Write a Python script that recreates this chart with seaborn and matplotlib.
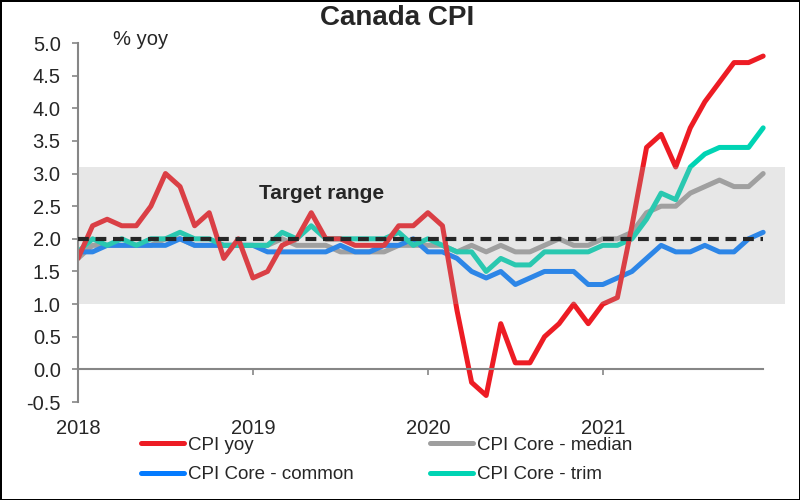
import matplotlib
matplotlib.use("Agg")
import matplotlib.pyplot as plt
import seaborn as sns
import pandas as pd
import numpy as np

# monthly data, Jan 2018 - Dec 2021
cpi_yoy = [1.7, 2.2, 2.3, 2.2, 2.2, 2.5, 3.0, 2.8, 2.2, 2.4, 1.7, 2.0,
           1.4, 1.5, 1.9, 2.0, 2.4, 2.0, 2.0, 1.9, 1.9, 1.9, 2.2, 2.2,
           2.4, 2.2, 0.9, -0.2, -0.4, 0.7, 0.1, 0.1, 0.5, 0.7, 1.0, 0.7,
           1.0, 1.1, 2.2, 3.4, 3.6, 3.1, 3.7, 4.1, 4.4, 4.7, 4.7, 4.8]
core_median = [1.7, 1.9, 1.9, 1.9, 1.9, 1.9, 2.0, 2.0, 1.9, 1.9, 1.9, 1.9,
               1.9, 1.9, 2.0, 1.9, 1.9, 1.9, 1.8, 1.8, 1.8, 1.8, 1.9, 1.9,
               1.9, 1.9, 1.8, 1.9, 1.8, 1.9, 1.8, 1.8, 1.9, 2.0, 1.9, 1.9,
               2.0, 2.0, 2.1, 2.4, 2.5, 2.5, 2.7, 2.8, 2.9, 2.8, 2.8, 3.0]
core_common = [1.8, 1.8, 1.9, 1.9, 1.9, 1.9, 1.9, 2.0, 1.9, 1.9, 1.9, 1.9,
               1.9, 1.8, 1.8, 1.8, 1.8, 1.8, 1.9, 1.8, 1.8, 1.9, 1.9, 2.0,
               1.8, 1.8, 1.7, 1.5, 1.4, 1.5, 1.3, 1.4, 1.5, 1.5, 1.5, 1.3,
               1.3, 1.4, 1.5, 1.7, 1.9, 1.8, 1.8, 1.9, 1.8, 1.8, 2.0, 2.1]
core_trim = [1.8, 2.0, 1.9, 2.0, 1.9, 2.0, 2.0, 2.1, 2.0, 2.0, 1.9, 1.9,
             1.9, 1.9, 2.1, 2.0, 2.2, 2.0, 2.0, 2.0, 2.0, 2.0, 2.1, 1.9,
             2.0, 1.9, 1.8, 1.8, 1.5, 1.7, 1.6, 1.6, 1.8, 1.8, 1.8, 1.8,
             1.9, 1.9, 2.0, 2.3, 2.7, 2.6, 3.1, 3.3, 3.4, 3.4, 3.4, 3.7]

years = ['2018', '2019', '2020', '2021']
target_low, target_high = 1.0, 3.1
target_mid = 2.0
y_ticks = [-0.5, 0.0, 0.5, 1.0, 1.5, 2.0, 2.5, 3.0, 3.5, 4.0, 4.5, 5.0]

series = {
    'CPI Core - median': core_median,
    'CPI Core - common': core_common,
    'CPI Core - trim': core_trim,
    'CPI yoy': cpi_yoy,
}
colors = {
    'CPI yoy': '#ED1C24',
    'CPI Core - median': '#9E9E9E',
    'CPI Core - common': '#047BFF',
    'CPI Core - trim': '#00D4B4',
}
legend_order = ['CPI yoy', 'CPI Core - common', 'CPI Core - median', 'CPI Core - trim']

n = len(cpi_yoy)
df = pd.concat(
    [pd.DataFrame({'month': np.arange(n), 'value': v, 'series': k}) for k, v in series.items()],
    ignore_index=True,
)

sns.set_style('white')
plt.rcParams['font.family'] = ['Liberation Sans', 'DejaVu Sans']
plt.rcParams['axes.unicode_minus'] = False

fig = plt.figure(figsize=(8, 5), dpi=100, edgecolor='black', linewidth=2)
ax = fig.add_axes([0.0975, 0.196, 0.8838, 0.718])

sns.lineplot(data=df, x='month', y='value', hue='series', hue_order=list(series),
             palette=colors, linewidth=3.6, ax=ax, legend=True)

# target band sits on top of the lines, semi transparent
ax.fill_between([0, n + 0.5], target_low, target_high, color='#A6A6A6', alpha=0.26,
                linewidth=0, zorder=5)
ax.plot([0, n - 1], [target_mid, target_mid], color='#262626', linewidth=3,
        linestyle=(0, (2.6, 1.6)), zorder=6)

ax.text(16.7, 2.69, 'Target range', fontsize=15, fontweight='bold', ha='center',
        va='center', zorder=7)
ax.text(2.4, 5.05, '% yoy', fontsize=14.5, ha='left', va='center')

ax.set_xlim(0, n + 0.5)
ax.set_ylim(-0.5, 5.0)
ax.set_yticks(y_ticks)
ax.set_yticklabels([f'{v:.1f}' for v in y_ticks])
ax.set_xticks(np.arange(len(years)) * 12)
ax.set_xticklabels(years)
ax.set_xlabel('')
ax.set_ylabel('')

for s in ['top', 'right']:
    ax.spines[s].set_visible(False)
ax.spines['left'].set_color('#868686')
ax.spines['left'].set_linewidth(1.5)
ax.spines['bottom'].set_position(('data', 0))
ax.spines['bottom'].set_bounds(0, n - 1)
ax.spines['bottom'].set_color('#868686')
ax.spines['bottom'].set_linewidth(1.5)
ax.tick_params(axis='y', direction='out', length=4.5, width=1.2, color='#868686',
               labelsize=14.5, pad=8, left=True)
ax.tick_params(axis='x', direction='out', length=4.5, width=1.2, color='#868686',
               labelsize=14.5, pad=31, bottom=True)

handles, labels = ax.get_legend_handles_labels()
ax.get_legend().remove()
lookup = dict(zip(labels, handles))
fig.legend([lookup[k] for k in legend_order], legend_order, ncol=2, loc='upper left',
           bbox_to_anchor=(0.176, 0.127), frameon=False, fontsize=13.5, handlelength=2.3,
           handletextpad=0.2, columnspacing=4.1, labelspacing=0.66, borderpad=0,
           borderaxespad=0)

fig.text(0.497, 0.964, 'Canada CPI', ha='center', va='center', fontsize=20,
         fontweight='bold')

fig.savefig('out.png', dpi=100, edgecolor=fig.get_edgecolor())
